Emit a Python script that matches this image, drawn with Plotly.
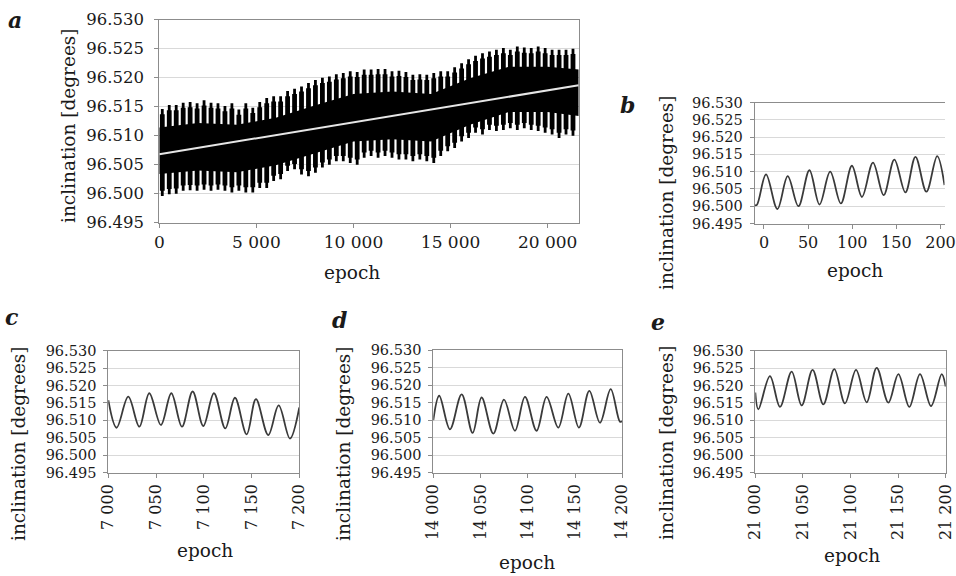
import plotly.graph_objects as go

# ---------------- data ----------------
# panel a: long-term band (teeth of the modulated oscillation)
tooth_epoch = [154, 513, 871, 1230, 1588, 1947, 2305, 2664, 3022, 3381, 3739, 4098, 4456, 4815,
               5173, 5532, 5890, 6249, 6607, 6966, 7324, 7683, 8041, 8400, 8758, 9117, 9475, 9834,
               10192, 10551, 10909, 11268, 11626, 11985, 12343, 12702, 13060, 13419, 13777, 14136,
               14494, 14853, 15211, 15570, 15928, 16287, 16645, 17004, 17362, 17721, 18079, 18438,
               18796, 19155, 19513, 19872, 20230, 20589, 20947, 21306]
tooth_top = [96.5146, 96.5153, 96.5153, 96.5157, 96.5158, 96.5156, 96.5161, 96.5157, 96.5156, 96.5151,
             96.5156, 96.5145, 96.5156, 96.5148, 96.5158, 96.5165, 96.5168, 96.5168, 96.5177, 96.5181,
             96.5185, 96.5191, 96.5196, 96.5200, 96.5202, 96.5206, 96.5208, 96.5211, 96.5210,
             96.5214, 96.5214, 96.5215, 96.5215, 96.5211, 96.5212, 96.5210, 96.5205, 96.5206, 96.5205,
             96.5208, 96.5211, 96.5211, 96.5218, 96.5225, 96.5232, 96.5238, 96.5242, 96.5245, 96.5248,
             96.5251, 96.5248, 96.5254, 96.5252, 96.5251, 96.5254, 96.5251, 96.5248, 96.5248, 96.5248,
             96.5250]
tooth_bottom = [96.4996, 96.4999, 96.5000, 96.5005, 96.5006, 96.5005, 96.5007, 96.5005, 96.5007, 96.5005,
                96.5002, 96.5005, 96.5002, 96.5002, 96.5010, 96.5010, 96.5022, 96.5025, 96.5039, 96.5042,
                96.5033, 96.5030, 96.5036, 96.5045, 96.5050, 96.5056, 96.5056, 96.5053, 96.5050,
                96.5062, 96.5065, 96.5062, 96.5065, 96.5062, 96.5059, 96.5059, 96.5056, 96.5059, 96.5056,
                96.5053, 96.5065, 96.5073, 96.5079, 96.5090, 96.5096, 96.5105, 96.5102, 96.5110, 96.5108,
                96.5110, 96.5113, 96.5110, 96.5113, 96.5110, 96.5108, 96.5105, 96.5102, 96.5096, 96.5102,
                96.5100]
core_epoch = [0, 2000, 4000, 6000, 8000, 10000, 12000, 14000, 16000, 18000, 20000, 21600]
core_hi = [96.5114, 96.5122, 96.5119, 96.5131, 96.5152, 96.5172, 96.5176, 96.5172, 96.5199, 96.5219, 96.5219, 96.5214]
core_lo = [96.5034, 96.5040, 96.5037, 96.5049, 96.5070, 96.5090, 96.5094, 96.5090, 96.5119, 96.5141, 96.5141, 96.5134]
trend_epoch = [0, 21600]
trend_val = [96.5068, 96.5187]

# panel b: epochs 0-200 (extrema)
b_epoch = [-10.5, -8, 2.3, 15.2, 26.9, 39, 51.5, 62.9, 75, 87.1, 99.6, 111, 123.5, 135.6,
           147.7, 160.2, 171.6, 184, 196.2, 204.5]
b_val = [96.5003, 96.5004, 96.5092, 96.4992, 96.5087, 96.5000, 96.5104, 96.5005, 96.5100, 96.5008,
         96.5117, 96.5027, 96.5126, 96.5032, 96.5135, 96.5040, 96.5143, 96.5042, 96.5145, 96.5061]

# panel c: epochs 7000-7200
c_epoch = [7000, 7008.7, 7020.9, 7032.5, 7042.9, 7055.1, 7066, 7077.1, 7088.3, 7099.5, 7110.6,
           7122.5, 7132.6, 7144.9, 7154.6, 7167.5, 7178.4, 7190.2, 7200]
c_val = [96.5158, 96.5079, 96.5168, 96.5082, 96.5178, 96.5087, 96.5178, 96.5082, 96.5183, 96.5084,
         96.5178, 96.5077, 96.5165, 96.5060, 96.5161, 96.5058, 96.5143, 96.5048, 96.5137]

# panel d: epochs 14000-14200
d_epoch = [14000, 14006.3, 14017.6, 14030, 14041.6, 14051.1, 14063.5, 14074.8, 14086.4, 14097,
           14109.3, 14119.9, 14132.3, 14142.9, 14154.1, 14165.1, 14176.4, 14187.7, 14197.5, 14200]
d_val = [96.5100, 96.5170, 96.5074, 96.5174, 96.5064, 96.5165, 96.5062, 96.5159, 96.5070, 96.5167,
         96.5070, 96.5167, 96.5079, 96.5176, 96.5079, 96.5184, 96.5093, 96.5189, 96.5096, 96.5097]

# panel e: epochs 21000-21200
e_epoch = [21000, 21003.2, 21015.4, 21025.9, 21038.2, 21048.7, 21060.2, 21071.5, 21083, 21094.2,
           21105.8, 21117, 21127.5, 21139.8, 21150.3, 21161.8, 21173, 21184.6, 21195.8, 21200]
e_val = [96.5180, 96.5132, 96.5227, 96.5139, 96.5240, 96.5143, 96.5245, 96.5146, 96.5247, 96.5149,
         96.5245, 96.5152, 96.5251, 96.5151, 96.5233, 96.5139, 96.5233, 96.5141, 96.5233, 96.5197]

y_ticks = [96.495, 96.500, 96.505, 96.510, 96.515, 96.520, 96.525, 96.530]

# ---------------- figure ----------------
W, H = 956, 576
FONT = "DejaVu Serif"
GRID = "#d9d9d9"
AXC = "#8c8c8c"
CURVE = "#3a3a3a"
TXT = "#1a1a1a"
TIP_TAPER = 0.0009  # visual taper of the band's teeth (style only)

fig = go.Figure()

# panel a
fig.add_trace(go.Scatter(
    x=core_epoch + core_epoch[::-1], y=core_hi + core_lo[::-1],
    fill="toself", fillcolor="black", line=dict(width=0), mode="lines",
    xaxis="x", yaxis="y", hoverinfo="skip"))
tx, ty, wx, wy = [], [], [], []
for e, hi, lo in zip(tooth_epoch, tooth_top, tooth_bottom):
    tx += [e, e, None]
    ty += [lo, hi, None]
    wx += [e, e, None]
    wy += [lo + TIP_TAPER, hi - TIP_TAPER, None]
fig.add_trace(go.Scatter(x=tx, y=ty, mode="lines", line=dict(color="black", width=2.8),
                         xaxis="x", yaxis="y", connectgaps=False))
fig.add_trace(go.Scatter(x=wx, y=wy, mode="lines", line=dict(color="black", width=4.8),
                         xaxis="x", yaxis="y", connectgaps=False))
fig.add_trace(go.Scatter(x=trend_epoch, y=trend_val, mode="lines",
                         line=dict(color="#e6e6e6", width=2), xaxis="x", yaxis="y"))

# panels b-e
for i, (xs, ys) in enumerate([(b_epoch, b_val), (c_epoch, c_val), (d_epoch, d_val), (e_epoch, e_val)], start=2):
    fig.add_trace(go.Scatter(x=xs, y=ys, mode="lines",
                             line=dict(color=CURVE, width=1.8, shape="spline", smoothing=1.0),
                             xaxis=f"x{i}", yaxis=f"y{i}"))


def px(x):
    return x / W


def py(y):
    return 1 - y / H


panels = {
    # name: (x0, x1, ytop, ybottom) in pixels
    "1": (159.3, 578.7, 19.7, 222.7),
    "2": (754.7, 944.5, 102.5, 223.5),
    "3": (108.3, 299.3, 350.7, 472.7),
    "4": (433.3, 622.3, 350.3, 472.7),
    "5": (755.3, 945.7, 350.7, 472.7),
}
xranges = {"1": [0, 21600], "2": [-10.5, 204.5], "3": [7000, 7200], "4": [14000, 14200], "5": [21000, 21200]}
xdticks = {"1": 5000, "2": 50, "3": 50, "4": 50, "5": 50}

layout = dict(
    width=W, height=H, margin=dict(l=0, r=0, t=0, b=0, autoexpand=False),
    paper_bgcolor="white", plot_bgcolor="white", showlegend=False,
    separators=". ", font=dict(family=FONT, color=TXT),
)
for k, (x0, x1, yt, yb) in panels.items():
    xa = "xaxis" if k == "1" else f"xaxis{k}"
    ya = "yaxis" if k == "1" else f"yaxis{k}"
    yref = "y" if k == "1" else f"y{k}"
    xref = "x" if k == "1" else f"x{k}"
    ysize = 16.5 if k == "1" else 14.5
    layout[xa] = dict(
        domain=[px(x0), px(x1)], anchor=yref, range=xranges[k], automargin=False,
        tick0=xranges[k][0] if k != "2" else 0, dtick=xdticks[k], tickformat=",d",
        showgrid=False, zeroline=False, showline=True, linecolor=AXC, linewidth=1,
        mirror=True, ticks="outside", ticklen=4, tickcolor=AXC, ticklabeloverflow="allow",
        tickfont=dict(family=FONT, size=17 if k == "1" else 16, color=TXT),
        tickangle=-90 if k in ("3", "4", "5") else 0,
    )
    layout[ya] = dict(
        domain=[py(yb), py(yt)], anchor=xref, range=[96.495, 96.530], automargin=False,
        tickvals=y_ticks, tickformat=".3f",
        showgrid=True, gridcolor=GRID, gridwidth=1, zeroline=False,
        showline=True, linecolor=AXC, linewidth=1, mirror=(k != "2"),
        ticks="outside", ticklen=4, tickcolor=AXC, ticklabeloverflow="allow",
        tickfont=dict(family=FONT, size=ysize, color=TXT),
        ticklabelstandoff=4 if k != "1" else 7,
    )
fig.update_layout(**layout)

ann = []
title_font = dict(family=FONT, size=18.5, color=TXT)
letter_font = dict(family=FONT, size=22, color=TXT)
# y titles (x, y center in px)
for (cx, cy) in [(68, 126), (666, 193), (18, 444), (343, 444), (666, 443)]:
    ann.append(dict(text="inclination [degrees]", x=px(cx), y=py(cy), xref="paper", yref="paper",
                    showarrow=False, textangle=-90, font=title_font, xanchor="center", yanchor="middle"))
# x titles
for (cx, cy) in [(352, 272), (855, 270), (205, 550), (527, 562), (852, 555)]:
    ann.append(dict(text="epoch", x=px(cx), y=py(cy), xref="paper", yref="paper",
                    showarrow=False, font=title_font, xanchor="center", yanchor="middle"))
# panel letters
for (t, cx, cy) in [("a", 15, 20), ("b", 627, 105), ("c", 12, 317), ("d", 339, 320), ("e", 658, 322)]:
    ann.append(dict(text=f"<b><i>{t}</i></b>", x=px(cx), y=py(cy), xref="paper", yref="paper",
                    showarrow=False, font=letter_font, xanchor="center", yanchor="middle"))
fig.update_layout(annotations=ann)

fig.write_html("out.html", config={"displayModeBar": False},
               post_script="document.body.style.margin='0';document.body.style.overflow='hidden';")
